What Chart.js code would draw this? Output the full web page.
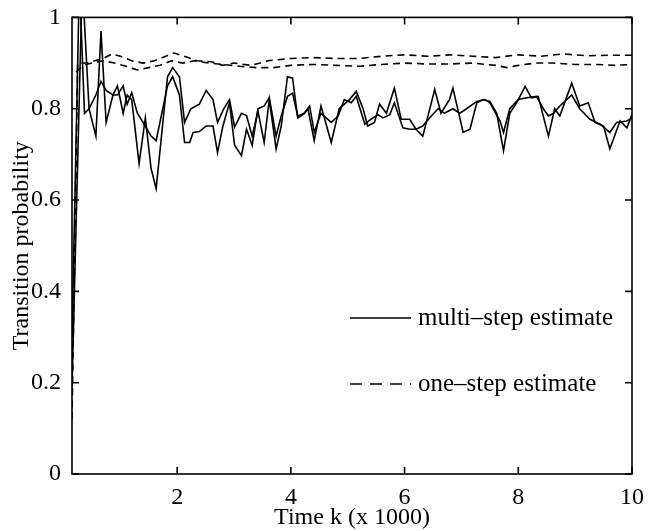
<html lang="en">
<head>
    <meta charset="UTF-8">
    <title>Transition probability estimates</title>
    <style>
        body { margin: 0; background: #fff; }
        #wrap { width: 661px; height: 531px; }
    </style>
</head>
<body>
    <div id="wrap"><canvas id="probChart" width="661" height="531"></canvas></div>

    <script src="https://cdn.jsdelivr.net/npm/chart.js@4.4.0/dist/chart.umd.min.js"></script>

    <script>
        // time axis in units of 1000 steps
        var xTicks = [2, 4, 6, 8, 10];
        var yTicks = [0, 0.2, 0.4, 0.6, 0.8, 1];

        // multi-step estimate, first curve
        var multiTimeA = [0.15, 0.33, 0.45, 0.57, 0.66, 0.75, 0.87, 0.95, 1.05, 1.12, 1.2, 1.33, 1.44, 1.54, 1.63, 1.83, 1.92, 2.04, 2.13, 2.24, 2.39, 2.51, 2.63, 2.71, 2.82, 2.92, 3.01, 3.13, 3.22, 3.32, 3.42, 3.53, 3.62, 3.74, 3.83, 3.94, 4.03, 4.12, 4.21, 4.30, 4.41, 4.53, 4.71, 4.85, 5.03, 5.15, 5.27, 5.35, 5.47, 5.56, 5.68, 5.82, 5.94, 6.09, 6.2, 6.32, 6.53, 6.64, 6.79, 6.85, 7.03, 7.15, 7.27, 7.38, 7.5, 7.62, 7.74, 7.85, 7.97, 8.12, 8.23, 8.35, 8.53, 8.64, 8.73, 8.94, 9.08, 9.23, 9.35, 9.5, 9.61, 9.79, 9.91, 10.0];
        var multiA = [0.19, 1.08, 0.80, 0.74, 0.97, 0.77, 0.83, 0.85, 0.79, 0.83, 0.82, 0.68, 0.78, 0.67, 0.625, 0.87, 0.89, 0.87, 0.77, 0.80, 0.81, 0.84, 0.82, 0.77, 0.80, 0.82, 0.76, 0.79, 0.785, 0.74, 0.795, 0.726, 0.82, 0.712, 0.762, 0.87, 0.867, 0.78, 0.787, 0.80, 0.73, 0.806, 0.726, 0.80, 0.82, 0.838, 0.80, 0.762, 0.77, 0.81, 0.79, 0.845, 0.777, 0.777, 0.755, 0.74, 0.842, 0.79, 0.82, 0.845, 0.748, 0.755, 0.813, 0.82, 0.816, 0.79, 0.708, 0.79, 0.813, 0.849, 0.824, 0.827, 0.74, 0.80, 0.784, 0.856, 0.806, 0.813, 0.77, 0.762, 0.712, 0.773, 0.758, 0.787];

        // multi-step estimate, second curve
        var multiTimeB = [0.15, 0.28, 0.37, 0.45, 0.57, 0.66, 0.75, 0.87, 0.95, 1.05, 1.12, 1.2, 1.3, 1.44, 1.54, 1.63, 1.83, 1.92, 2.04, 2.13, 2.22, 2.28, 2.39, 2.51, 2.63, 2.71, 2.8, 2.92, 3.01, 3.13, 3.22, 3.32, 3.42, 3.53, 3.62, 3.74, 3.83, 3.94, 4.03, 4.12, 4.24, 4.33, 4.41, 4.53, 4.71, 4.83, 4.94, 5.06, 5.15, 5.3, 5.41, 5.53, 5.62, 5.74, 5.82, 5.97, 6.09, 6.2, 6.32, 6.47, 6.59, 6.7, 6.85, 6.97, 7.09, 7.27, 7.41, 7.5, 7.68, 7.74, 7.85, 8.0, 8.15, 8.32, 8.44, 8.53, 8.62, 8.73, 8.94, 9.08, 9.26, 9.44, 9.61, 9.73, 9.91, 10.0];
        var multiB = [0.30, 1.08, 0.79, 0.80, 0.83, 0.86, 0.84, 0.83, 0.83, 0.85, 0.81, 0.835, 0.79, 0.762, 0.74, 0.73, 0.85, 0.87, 0.83, 0.726, 0.726, 0.748, 0.75, 0.762, 0.762, 0.704, 0.76, 0.813, 0.72, 0.697, 0.755, 0.72, 0.80, 0.806, 0.824, 0.74, 0.784, 0.827, 0.834, 0.784, 0.79, 0.806, 0.748, 0.79, 0.77, 0.784, 0.82, 0.813, 0.827, 0.766, 0.777, 0.787, 0.78, 0.787, 0.813, 0.758, 0.755, 0.755, 0.762, 0.784, 0.80, 0.79, 0.80, 0.79, 0.80, 0.816, 0.82, 0.813, 0.773, 0.748, 0.80, 0.82, 0.824, 0.827, 0.80, 0.784, 0.79, 0.806, 0.83, 0.80, 0.777, 0.766, 0.748, 0.77, 0.773, 0.78];

        // one-step estimate, upper curve
        var oneTimeA = [0.15, 0.25, 0.4, 0.55, 0.7, 0.85, 1.0, 1.2, 1.4, 1.6, 1.8, 1.95, 2.15, 2.35, 2.6, 2.8, 3.0, 3.3, 3.6, 4.0, 4.4, 4.8, 5.2, 5.6, 6.0, 6.4, 6.8, 7.2, 7.6, 8.0, 8.4, 8.8, 9.2, 9.6, 10.0];
        var oneA = [0.12, 0.90, 0.90, 0.905, 0.91, 0.92, 0.915, 0.905, 0.90, 0.905, 0.915, 0.922, 0.914, 0.905, 0.903, 0.895, 0.90, 0.895, 0.905, 0.91, 0.912, 0.91, 0.91, 0.915, 0.918, 0.915, 0.918, 0.915, 0.912, 0.918, 0.915, 0.92, 0.916, 0.917, 0.917];

        // one-step estimate, lower curve
        var oneTimeB = [0.22, 0.35, 0.5, 0.7, 0.9, 1.1, 1.3, 1.5, 1.7, 1.9, 2.1, 2.3, 2.55, 2.8, 3.1, 3.4, 3.7, 4.0, 4.4, 4.8, 5.2, 5.6, 6.0, 6.4, 6.8, 7.2, 7.6, 7.8, 8.0, 8.3, 8.6, 9.0, 9.4, 9.7, 10.0];
        var oneB = [0.88, 0.895, 0.90, 0.905, 0.90, 0.893, 0.885, 0.89, 0.895, 0.905, 0.90, 0.905, 0.90, 0.897, 0.893, 0.89, 0.89, 0.895, 0.897, 0.895, 0.893, 0.897, 0.90, 0.898, 0.898, 0.90, 0.895, 0.89, 0.895, 0.90, 0.90, 0.897, 0.897, 0.895, 0.897];

        var fontFamily = "'Liberation Serif', 'DejaVu Serif', serif";

        function toPoints(xs, ys) {
            return xs.map(function (x, i) { return { x: x, y: ys[i] }; });
        }

        function makeSet(label, xs, ys, dashed) {
            return {
                label: label,
                data: toPoints(xs, ys),
                borderColor: '#000',
                borderWidth: 1.6,
                borderDash: dashed ? [7, 5] : [],
                pointRadius: 0,
                tension: 0,
                fill: false,
                clip: 0
            };
        }

        // box, inward ticks and legend, matlab style
        var framePlugin = {
            id: 'frame',
            afterDatasetsDraw: function (chart) {
                var ctx = chart.ctx;
                var a = chart.chartArea;
                var xs = chart.scales.x, ys = chart.scales.y;
                ctx.save();
                ctx.strokeStyle = '#000';
                ctx.lineWidth = 1.6;
                ctx.setLineDash([]);
                ctx.strokeRect(a.left, a.top, a.right - a.left, a.bottom - a.top);
                ctx.beginPath();
                xTicks.forEach(function (v) {
                    var px = xs.getPixelForValue(v);
                    ctx.moveTo(px, a.bottom); ctx.lineTo(px, a.bottom - 7);
                    ctx.moveTo(px, a.top); ctx.lineTo(px, a.top + 7);
                });
                yTicks.forEach(function (v) {
                    var py = ys.getPixelForValue(v);
                    ctx.moveTo(a.left, py); ctx.lineTo(a.left + 7, py);
                    ctx.moveTo(a.right, py); ctx.lineTo(a.right - 7, py);
                });
                ctx.stroke();

                // legend
                var entries = [
                    { text: chart.data.datasets[0].label, dash: [], y: 318 },
                    { text: chart.data.datasets[2].label, dash: [12, 8], y: 384 }
                ];
                ctx.font = '25px ' + fontFamily;
                ctx.fillStyle = '#000';
                ctx.textBaseline = 'middle';
                entries.forEach(function (e) {
                    ctx.beginPath();
                    ctx.setLineDash(e.dash);
                    ctx.moveTo(350, e.y);
                    ctx.lineTo(411, e.y);
                    ctx.stroke();
                    ctx.fillText(e.text, 418, e.y);
                });
                ctx.restore();
            }
        };

        new Chart('probChart', {
            type: 'line',
            data: {
                datasets: [
                    makeSet('multi\u2013step estimate', multiTimeA, multiA, false),
                    makeSet('multi\u2013step estimate', multiTimeB, multiB, false),
                    makeSet('one\u2013step estimate', oneTimeA, oneA, true),
                    makeSet('one\u2013step estimate', oneTimeB, oneB, true)
                ]
            },
            options: {
                responsive: false,
                animation: false,
                layout: { padding: { left: 0, right: 29, top: 17, bottom: 0 } },
                plugins: {
                    legend: { display: false },
                    tooltip: { enabled: false }
                },
                scales: {
                    x: {
                        type: 'linear',
                        min: 0.15,
                        max: 10,
                        afterBuildTicks: function (s) {
                            s.ticks = xTicks.map(function (v) { return { value: v }; });
                        },
                        afterFit: function (s) { s.height = 57; },
                        grid: { display: false },
                        border: { display: false },
                        ticks: {
                            color: '#000',
                            padding: 1,
                            maxRotation: 0,
                            font: { family: fontFamily, size: 24 }
                        },
                        title: {
                            display: true,
                            text: 'Time k (x 1000)',
                            color: '#000',
                            padding: { top: 0, bottom: 0 },
                            font: { family: fontFamily, size: 24, lineHeight: 1.1 }
                        }
                    },
                    y: {
                        min: 0,
                        max: 1,
                        afterBuildTicks: function (s) {
                            s.ticks = yTicks.map(function (v) { return { value: v }; });
                        },
                        afterFit: function (s) { s.width = 72; },
                        grid: { display: false },
                        border: { display: false },
                        ticks: {
                            color: '#000',
                            padding: 3,
                            font: { family: fontFamily, size: 24 },
                            callback: function (v) { return String(+v.toFixed(1)); }
                        },
                        title: {
                            display: true,
                            text: 'Transition probability',
                            color: '#000',
                            padding: { top: 9, bottom: 0 },
                            font: { family: fontFamily, size: 24, lineHeight: 1.1 }
                        }
                    }
                }
            },
            plugins: [framePlugin]
        });
    </script>
</body>
</html>
